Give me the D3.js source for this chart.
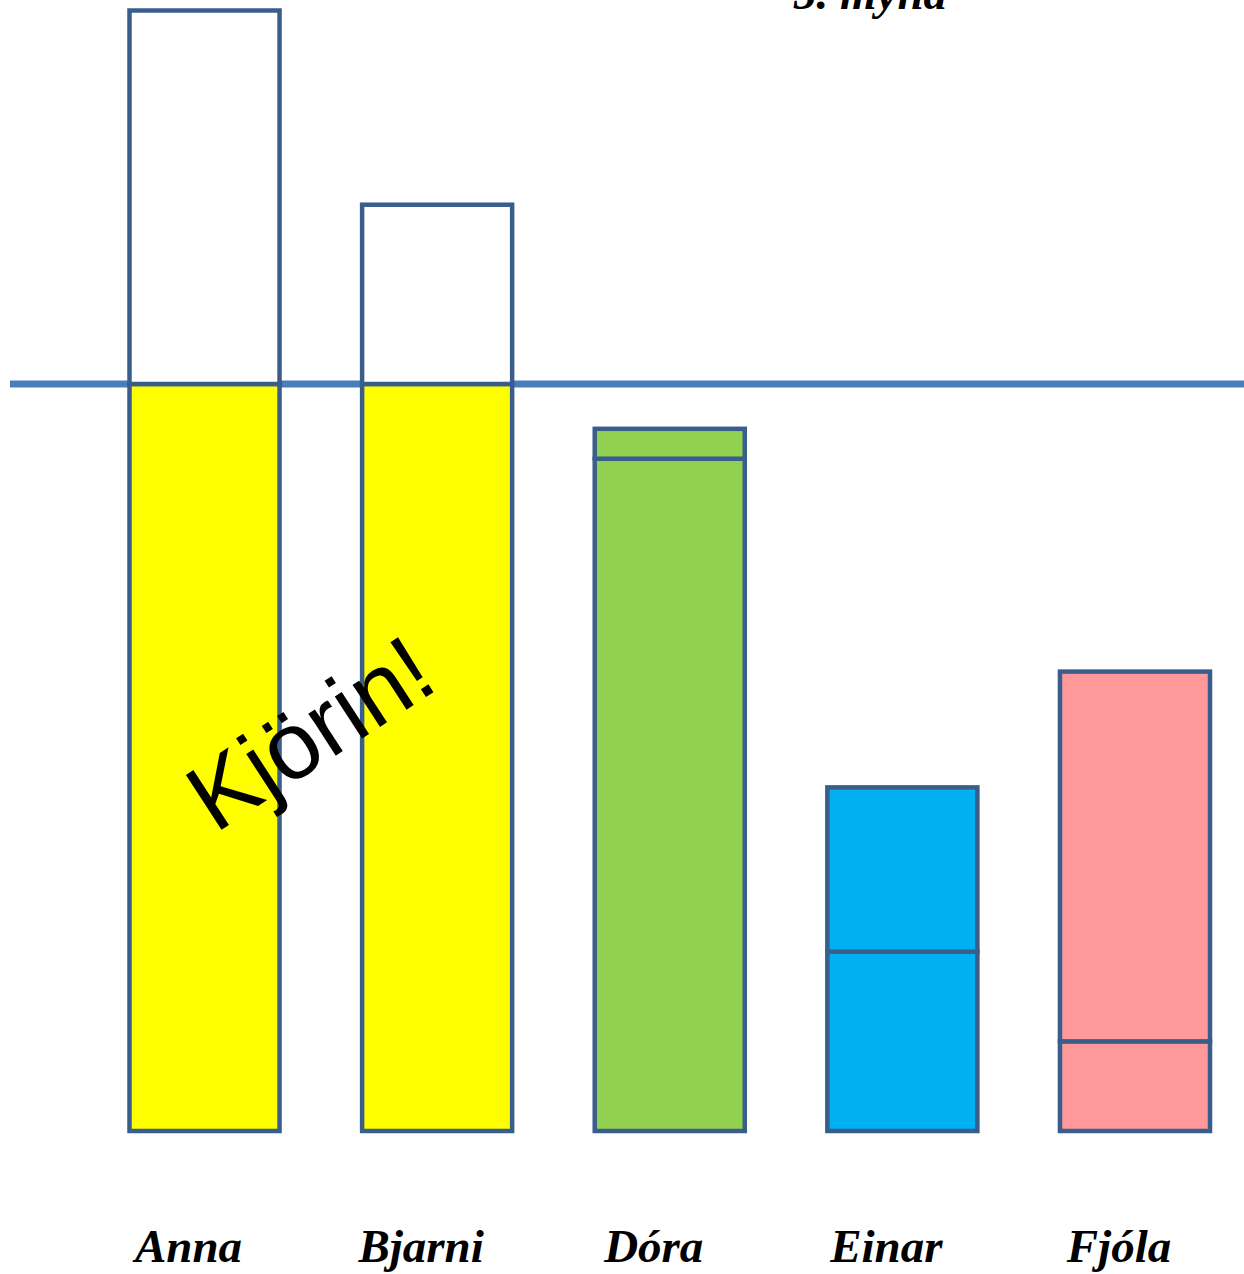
<!DOCTYPE html>
<html>
<head>
<meta charset="utf-8">
<script src="https://cdn.jsdelivr.net/npm/d3@7"></script>
<style>
  html, body { margin: 0; padding: 0; background: #ffffff; }
  svg { display: block; }
</style>
</head>
<body>
<div id="chart"></div>
<script>
// ---- data ----
const candidates = ["Anna", "Bjarni", "Dóra", "Einar", "Fjóla"];
const firstVotes = [100, 100, 90, 24, 12];     // lower segment
const extraVotes = [50, 24, 4, 22, 49.5];      // upper segment
const quota = 100;
const title = "5. mynd";
const electedNote = "Kjörin!";

// ---- styles ----
const lowerColors = ["#FFFF00", "#FFFF00", "#92D050", "#00B0F0", "#FF9999"];
const upperColors = ["#FFFFFF", "#FFFFFF", "#92D050", "#00B0F0", "#FF9999"];
const outline = "#3A5E8C";

const W = 1244, H = 1274;
const svg = d3.select("#chart").append("svg").attr("width", W).attr("height", H);

const x = d3.scaleBand().domain(candidates).range([129.5, 1210]).paddingInner(0.355).paddingOuter(0);
const y = d3.scaleLinear().domain([0, 150]).range([1131, 10.5]);

// quota line (behind bars)
svg.append("line")
  .attr("x1", 10).attr("x2", W)
  .attr("y1", y(quota)).attr("y2", y(quota))
  .attr("stroke", "#4A7EBB").attr("stroke-width", 7);

const rows = candidates.map((c, i) => ({ c, a: firstVotes[i], b: extraVotes[i], i }));

const g = svg.append("g");
// lower segments
g.selectAll("rect.lower").data(rows).join("rect")
  .attr("class", "lower")
  .attr("x", d => x(d.c)).attr("width", x.bandwidth())
  .attr("y", d => y(d.a)).attr("height", d => y(0) - y(d.a))
  .attr("fill", d => lowerColors[d.i])
  .attr("stroke", outline).attr("stroke-width", 4.5);
// upper segments
g.selectAll("rect.upper").data(rows).join("rect")
  .attr("class", "upper")
  .attr("x", d => x(d.c)).attr("width", x.bandwidth())
  .attr("y", d => y(d.a + d.b)).attr("height", d => y(d.a) - y(d.a + d.b))
  .attr("fill", d => upperColors[d.i])
  .attr("stroke", outline).attr("stroke-width", 4.5);

// category labels
svg.selectAll("text.lab").data(candidates).join("text")
  .attr("class", "lab")
  .attr("x", d => x(d) + x.bandwidth() / 2 - 16)
  .attr("y", 1262)
  .attr("text-anchor", "middle")
  .attr("font-family", "'Liberation Serif', 'Times New Roman', serif")
  .attr("font-weight", "bold").attr("font-style", "italic")
  .attr("font-size", 47)
  .attr("fill", "#000")
  .text(d => d);

// title (partially cut at top, as in the original)
svg.append("text")
  .attr("x", 870).attr("y", 9)
  .attr("text-anchor", "middle")
  .attr("font-family", "'Liberation Serif', 'Times New Roman', serif")
  .attr("font-weight", "bold").attr("font-style", "italic")
  .attr("font-size", 47)
  .attr("fill", "#000")
  .text(title);

// rotated note
svg.append("text")
  .attr("transform", "translate(215,834) rotate(-33)")
  .attr("text-anchor", "start")
  .attr("font-family", "'Liberation Sans', Arial, sans-serif")
  .attr("font-size", 95)
  .attr("fill", "#000")
  .text(electedNote);
</script>
</body>
</html>
